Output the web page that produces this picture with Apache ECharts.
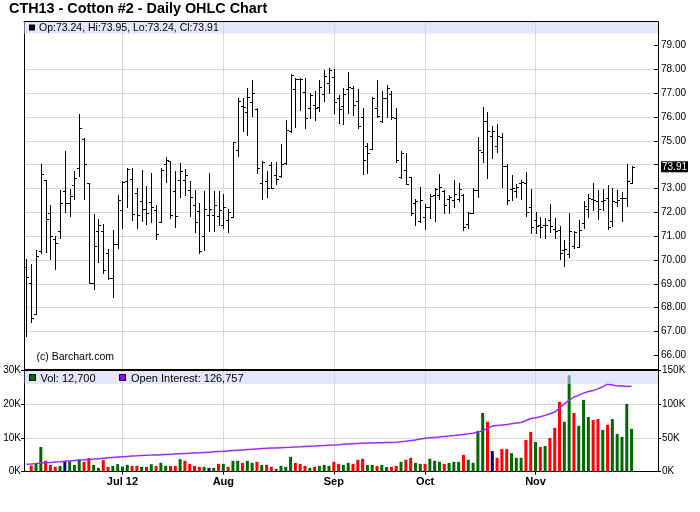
<!DOCTYPE html>
<html><head><meta charset="utf-8">
<script src="https://cdn.jsdelivr.net/npm/echarts@6/dist/echarts.min.js"></script>
<style>html,body{margin:0;padding:0;background:#fff}#c{width:700px;height:512px}</style>
</head><body><div id="c"></div>
<script>
// ---- DATA ----
const firstDay = '2012-06-04';
const lastDay = '2012-12-07';            // axis runs a few sessions past the last bar
const holidays = ['2012-07-04', '2012-09-03', '2012-11-22'];
const monthNames = {'2012-07': 'Jul 12', '2012-08': 'Aug', '2012-09': 'Sep', '2012-10': 'Oct', '2012-11': 'Nov'};
const priceTicks = [66, 67, 68, 69, 70, 71, 72, 73, 74, 75, 76, 77, 78, 79];
const volTicks = [0, 10000, 20000, 30000];
const oiTicks = [0, 50000, 100000, 150000];

const open = [69.71,69.02,67.72,70.38,73.34,71.99,70.89,71.20,72.88,72.39,
73.16,73.87,75.09,73.21,69.05,71.21,71.21,70.31,69.26,70.69,
72.09,73.31,73.39,72.79,72.46,72.12,72.44,72.09,71.60,74.04,
74.14,72.88,73.34,73.34,72.92,72.29,72.04,71.00,71.90,71.87,
71.86,71.47,71.68,71.81,74.60,76.48,76.20,76.64,76.34,73.22,
73.31,73.99,73.55,73.52,74.06,75.41,77.17,77.59,77.03,76.36,
76.50,76.43,76.95,77.41,77.69,76.81,76.48,77.17,77.23,76.67,
76.01,74.78,74.64,76.39,75.83,76.81,76.95,75.97,73.50,73.78,
73.50,72.38,71.64,71.82,72.24,72.73,72.73,72.91,72.56,72.52,
72.55,72.73,71.50,71.99,72.94,74.55,75.85,75.20,74.80,75.17,
73.94,72.98,72.90,73.24,73.22,72.24,71.68,71.47,71.47,71.68,
71.30,71.26,70.42,70.24,70.59,70.56,71.54,72.13,72.56,72.49,
72.49,72.59,71.65,72.45,72.59,72.62,73.24];
const high = [70.04,69.83,70.42,74.02,73.36,72.29,70.99,72.93,74.56,72.96,
73.72,76.11,75.10,73.21,71.95,71.74,71.53,70.47,71.27,72.74,
73.31,73.84,73.88,73.00,73.77,73.10,73.66,72.32,73.88,74.31,
74.15,73.74,74.05,73.80,73.31,72.93,72.37,72.91,73.66,72.89,
72.90,72.76,72.14,74.97,76.78,76.81,77.20,77.55,76.36,74.15,
73.73,74.13,74.10,74.85,75.87,77.80,77.65,77.62,77.65,76.99,
77.09,77.55,77.97,78.07,78.01,76.92,77.20,77.90,77.30,77.16,
76.39,74.90,76.85,77.55,77.09,77.34,77.09,76.39,74.57,74.48,
73.50,72.56,73.05,72.34,72.76,73.01,73.61,72.94,72.73,73.36,
73.22,72.76,72.03,73.01,75.15,76.41,76.20,75.64,75.71,75.34,
74.01,73.57,73.17,73.36,73.71,72.98,72.03,71.82,71.78,72.35,
71.78,71.44,70.84,71.96,71.22,71.68,72.49,72.76,73.22,72.94,
72.98,73.15,73.01,72.94,72.84,74.01,73.95];
const low = [66.83,67.41,67.72,70.30,70.32,70.05,69.62,70.92,72.01,71.84,
72.56,73.52,72.56,69.02,68.80,69.92,69.47,69.19,68.45,70.51,
71.35,72.23,71.67,71.35,71.63,71.53,71.60,70.88,71.59,73.28,
71.76,71.39,72.66,72.74,71.84,71.18,70.30,70.40,71.20,71.21,
71.47,71.36,71.19,71.79,74.38,75.41,75.24,76.04,73.64,72.55,
72.66,73.03,73.17,73.50,74.04,75.38,75.59,76.29,75.52,75.94,
75.87,76.27,76.67,76.99,76.15,75.76,75.71,76.15,76.08,75.52,
73.59,73.64,74.64,75.99,75.80,76.01,75.90,74.13,73.45,73.17,
71.89,71.47,71.61,71.29,71.75,71.64,72.55,71.96,71.99,72.24,
72.48,71.26,71.33,71.96,72.66,74.13,73.45,74.27,74.55,73.05,
72.34,72.52,72.63,72.55,71.86,71.12,71.12,70.98,70.94,71.16,
70.91,70.03,69.76,70.11,70.52,70.56,71.33,71.79,72.10,71.71,
72.10,71.29,71.44,72.28,71.65,72.28,73.24];
const close = [69.30,67.55,70.15,73.62,71.70,70.99,70.73,72.38,72.38,72.68,
73.45,75.55,74.04,69.05,70.57,71.46,69.60,69.23,70.69,72.53,
73.29,73.81,71.91,71.89,72.13,71.97,72.22,71.10,73.76,74.18,
71.87,71.85,73.73,73.55,72.64,71.59,70.38,72.15,72.15,72.29,
72.10,72.24,72.03,74.93,76.69,76.43,76.85,77.02,73.85,74.13,
73.03,73.02,73.40,74.01,75.44,77.76,77.59,77.58,75.94,76.92,
76.39,77.27,77.73,77.97,76.62,76.34,76.97,77.24,76.50,75.62,
74.20,74.48,76.78,76.04,76.81,77.20,76.01,74.20,74.48,73.19,
71.98,72.49,72.50,72.24,72.70,72.98,73.08,72.31,72.66,72.76,
72.98,71.38,71.96,72.94,74.62,75.85,75.41,75.41,75.20,73.94,
72.52,73.01,73.05,73.29,72.00,71.40,71.44,71.40,71.47,71.44,
71.23,70.31,70.46,71.22,71.19,71.26,72.27,72.62,72.52,72.13,
72.52,71.40,72.48,72.52,72.62,73.33,73.91];
const volume = [null,1800,2300,7300,3200,2000,1400,1700,2900,3100,
2000,3700,2900,4000,2000,1100,3400,1400,1700,2200,
1500,2000,1700,1700,1400,1400,2200,1700,2600,1700,
1700,1700,3700,3200,2300,1700,1400,1400,1100,1100,
2300,2300,1400,3200,3200,2600,3200,2600,2900,2000,
2000,1400,800,1700,1400,4400,2600,2300,1700,1100,
1400,1700,2000,1700,2900,2300,2000,2600,2300,3500,
3800,2000,2000,1700,2000,1400,1400,1700,2900,3500,
4100,2600,2300,2300,3800,3200,2900,2300,2600,2900,
2900,5000,3500,2600,12100,17400,14800,6100,4100,6700,
6700,5500,4100,4100,9400,11800,8800,7300,7600,10000,
13000,20700,14800,28600,17400,13600,21300,16200,15300,15600,
12400,13900,15600,11200,10300,20100,12700];
const openInterest = [10900,11400,12000,12600,13100,13600,14200,14700,15300,15900,
16400,17000,17500,18100,18600,19200,19800,20400,21000,21600,
22200,22600,23000,23400,23900,24300,24500,24800,25100,25400,
25700,26100,26500,26900,27300,27700,28100,28500,28900,29300,
29800,30200,30700,31200,31700,32200,32700,33200,33700,34200,
34600,34900,35200,35600,35900,36200,36600,36900,37300,37600,
37900,38300,38600,39000,39400,39900,40500,41100,41500,41800,
42100,42400,42600,42800,43000,43200,43400,43600,44200,45100,
46100,47100,48300,49400,50100,50800,51500,52200,52800,53500,
54400,55200,56100,57000,58600,60900,64200,67600,68400,69200,
70100,71200,72100,73000,75900,78900,80100,81600,83500,86000,
88400,94200,100600,105800,110800,113500,116500,119000,120600,122900,
126100,129800,128600,127300,127400,126500,126757];

// ---- trading-day categories ----
function tradingDays(a, b, off) {
  const out = [];
  const d = new Date(a + 'T00:00:00Z'), e = new Date(b + 'T00:00:00Z');
  while (d <= e) {
    const s = d.toISOString().slice(0, 10), w = d.getUTCDay();
    if (w !== 0 && w !== 6 && off.indexOf(s) < 0) out.push(s);
    d.setUTCDate(d.getUTCDate() + 1);
  }
  return out;
}
const dates = tradingDays(firstDay, lastDay, holidays);
const N = close.length;
const isMonthStart = (i) => i > 0 && i < N && dates[i].slice(0, 7) !== dates[i - 1].slice(0, 7);

const last = N - 1;
const lastClose = close[last];
const FONT = '"Liberation Sans", Arial, Helvetica, sans-serif';
const GREEN = '#006a00', RED = '#ff0000', NAVY = '#000080', PURPLE = '#9f2cf5';
const GRID = '#d9d9d9';

const ohlcData = close.map((c, i) => [i, open[i], high[i], low[i], c]);
const volData = volume.map((v, i) => {
  if (v == null) return null;
  const d = close[i] - close[i - 1];
  const col = Math.abs(d) < 0.001 ? NAVY : (d > 0 ? GREEN : RED);
  return { value: v, itemStyle: { color: col } };
});

const fmtK = (v) => (v / 1000) + 'K';

const chart = echarts.init(document.getElementById('c'), null, { renderer: 'canvas' });
const L = 24, R = 42;
chart.setOption({
  animation: false,
  backgroundColor: '#fff',
  textStyle: { fontFamily: FONT },
  title: {
    text: 'CTH13 - Cotton #2 - Daily OHLC Chart', left: 9, top: 2, padding: 0,
    textStyle: { fontFamily: FONT, fontSize: 14.4, fontWeight: 'bold', color: '#000' }
  },
  grid: [
    { left: L, right: R, top: 21.6, height: 357.6 },
    { left: L, right: R, top: 370.6, height: 101 }
  ],
  xAxis: [
    { type: 'category', gridIndex: 0, data: dates, position: 'top', boundaryGap: true,
      axisLine: { show: true, lineStyle: { color: '#000', width: 1 } },
      axisTick: { show: false }, axisLabel: { show: false },
      splitLine: { show: true, interval: (i) => isMonthStart(i), alignWithLabel: true, lineStyle: { color: GRID, width: 1 } } },
    { type: 'category', gridIndex: 1, data: dates, position: 'bottom', boundaryGap: true,
      axisLine: { show: true, lineStyle: { color: '#000', width: 1 } },
      axisTick: { show: true, interval: (i) => isMonthStart(i), alignWithLabel: true, length: 3, lineStyle: { color: '#000' } },
      axisLabel: { show: true, interval: (i) => isMonthStart(i), formatter: (v) => monthNames[v.slice(0, 7)] || '',
        fontFamily: FONT, fontSize: 11, fontWeight: 'bold', color: '#000', margin: 5 },
      splitLine: { show: true, interval: (i) => isMonthStart(i), alignWithLabel: true, lineStyle: { color: GRID, width: 1 } } }
  ],
  yAxis: [
    { type: 'value', gridIndex: 0, position: 'right', min: 65, max: 80, interval: 1,
      axisLine: { show: true, lineStyle: { color: '#000' } },
      axisTick: { show: true, inside: true, length: 4, customValues: priceTicks, lineStyle: { color: '#000' } },
      axisLabel: { show: true, customValues: priceTicks.filter(v => Math.abs(v - lastClose) > 0.5),
        formatter: (v) => v.toFixed(2), fontFamily: FONT, fontSize: 10, color: '#000', margin: 3 },
      splitLine: { show: true, showMinLine: false, showMaxLine: false, lineStyle: { color: GRID, width: 1 } } },
    { type: 'value', gridIndex: 0, position: 'left', min: 65, max: 80, interval: 1,
      axisLine: { show: true, lineStyle: { color: '#000' } },
      axisTick: { show: false }, axisLabel: { show: false }, splitLine: { show: false } },
    { type: 'value', gridIndex: 1, position: 'left', min: 0, max: 30000, interval: 10000,
      axisLine: { show: true, lineStyle: { color: '#000' } },
      axisTick: { show: true, length: 3, customValues: volTicks, lineStyle: { color: '#000' } },
      axisLabel: { show: true, customValues: volTicks, formatter: fmtK, fontFamily: FONT, fontSize: 10, color: '#000', margin: 3 },
      splitLine: { show: true, lineStyle: { color: GRID, width: 1 } } },
    { type: 'value', gridIndex: 1, position: 'right', min: 0, max: 150000, interval: 50000,
      axisLine: { show: true, lineStyle: { color: '#000' } },
      axisTick: { show: true, length: 3, customValues: oiTicks, lineStyle: { color: '#000' } },
      axisLabel: { show: true, customValues: oiTicks, formatter: fmtK, fontFamily: FONT, fontSize: 10, color: '#000', margin: 4 },
      splitLine: { show: false } }
  ],
  series: [
    { type: 'custom', name: 'OHLC', xAxisIndex: 0, yAxisIndex: 0, clip: true,
      encode: { x: 0, y: [1, 2, 3, 4] },
      data: ohlcData,
      renderItem: function (params, api) {
        const i = api.value(0);
        const pH = api.coord([i, api.value(2)]);
        const pL = api.coord([i, api.value(3)]);
        const pO = api.coord([i, api.value(1)]);
        const pC = api.coord([i, api.value(4)]);
        const x = Math.round(pH[0]) + 0.5;
        const yo = Math.round(pO[1]) + 0.5, yc = Math.round(pC[1]) + 0.5;
        const st = { stroke: '#000', lineWidth: 1 };
        return { type: 'group', children: [
          { type: 'line', shape: { x1: x, y1: Math.round(pH[1]), x2: x, y2: Math.round(pL[1]) + 1 }, style: st },
          { type: 'line', shape: { x1: x - 2.5, y1: yo, x2: x, y2: yo }, style: st },
          { type: 'line', shape: { x1: x, y1: yc, x2: x + 2.5, y2: yc }, style: st }
        ] };
      }
    },
    { type: 'line', name: 'LastClose', xAxisIndex: 0, yAxisIndex: 0, data: [], silent: true,
      markLine: {
        silent: true, symbol: ['none', 'none'], animation: false,
        lineStyle: { color: 'rgba(0,0,0,0)', width: 1, type: 'solid' },
        label: { show: true, position: 'end', distance: 3, formatter: () => lastClose.toFixed(2),
          backgroundColor: '#000', color: '#fff', padding: [1, 1, 0, 1], fontFamily: FONT, fontSize: 10 },
        emphasis: { disabled: true },
        data: [{ yAxis: lastClose }]
      }
    },
    { type: 'bar', name: 'Vol', xAxisIndex: 1, yAxisIndex: 2, barWidth: 3, data: volData, z: 2 },
    { type: 'line', name: 'Open Interest', xAxisIndex: 1, yAxisIndex: 3, data: openInterest,
      symbol: 'none', lineStyle: { color: PURPLE, width: 1.5 }, z: 3 }
  ],
  graphic: [
    { type: 'rect', z: 100, silent: true, shape: { x: L, y: 22, width: 700 - L - R, height: 11.5 }, style: { fill: 'rgba(208,208,250,0.55)' } },
    { type: 'rect', z: 101, shape: { x: 29, y: 24.5, width: 6, height: 6 }, style: { fill: '#000' } },
    { type: 'text', z: 101, style: { x: 39, y: 28, text: 'Op:' + open[last].toFixed(2) + ', Hi:' + high[last].toFixed(2) + ', Lo:' + low[last].toFixed(2) + ', Cl:' + close[last].toFixed(2),
      font: '10.5px ' + FONT, fill: '#000', verticalAlign: 'middle' } },
    { type: 'text', z: 101, style: { x: 36.5, y: 357.5, text: '(c) Barchart.com', font: '10.5px ' + FONT, fill: '#000', verticalAlign: 'middle' } },
    { type: 'line', z: 102, shape: { x1: L, y1: 370, x2: 700 - R, y2: 370 }, style: { stroke: '#000', lineWidth: 2 } },
    { type: 'rect', z: 100, silent: true, shape: { x: L + 0.5, y: 371, width: 700 - L - R - 0.5, height: 13 }, style: { fill: 'rgba(208,208,250,0.55)' } },
    { type: 'rect', z: 101, shape: { x: 29.5, y: 374.5, width: 6, height: 6 }, style: { fill: GREEN, stroke: '#000', lineWidth: 1 } },
    { type: 'text', z: 101, style: { x: 40.5, y: 378.5, text: 'Vol: ' + volume[last].toLocaleString('en-US'), font: '11px ' + FONT, fill: '#000', verticalAlign: 'middle' } },
    { type: 'rect', z: 101, shape: { x: 119.5, y: 374.5, width: 6, height: 6 }, style: { fill: '#9900ff', stroke: '#000', lineWidth: 1 } },
    { type: 'text', z: 101, style: { x: 131, y: 378.5, text: 'Open Interest: ' + openInterest[last].toLocaleString('en-US'), font: '11px ' + FONT, fill: '#000', verticalAlign: 'middle' } }
  ]
});
</script>
</body></html>
